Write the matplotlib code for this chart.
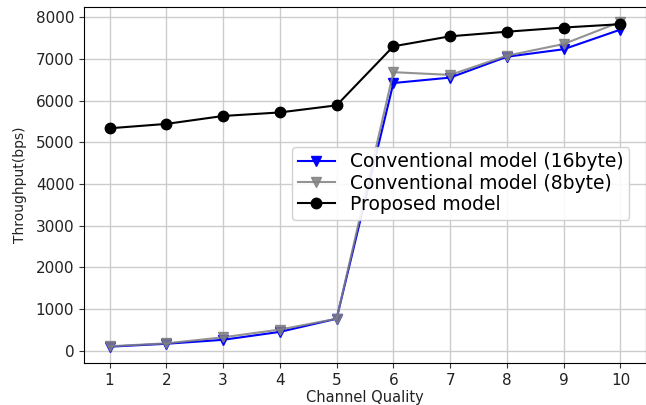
import matplotlib
matplotlib.use("Agg")
import matplotlib.pyplot as plt

# channel quality on x axis
channel_quality = [1, 2, 3, 4, 5, 6, 7, 8, 9, 10]

# throughput in bps
conv_16byte = [100, 170, 265, 455, 770, 6420, 6550, 7050, 7230, 7700]
conv_8byte = [110, 180, 325, 510, 770, 6680, 6615, 7075, 7355, 7885]
proposed = [5335, 5440, 5630, 5715, 5885, 7300, 7540, 7650, 7750, 7830]

fig = plt.figure(figsize=(6.46, 4.05), dpi=100)
ax = fig.add_axes([0.130, 0.104, 0.870, 0.879])

ax.plot(channel_quality, conv_16byte, color='blue', marker='v', markersize=7,
        linewidth=1.5, label='Conventional model (16byte)')
ax.plot(channel_quality, conv_8byte, color='gray', marker='v', markersize=7,
        linewidth=1.5, alpha=0.85, label='Conventional model (8byte)')
ax.plot(channel_quality, proposed, color='black', marker='o', markersize=7.5,
        linewidth=1.5, label='Proposed model')

ax.set_xlim(0.55, 10.45)
ax.set_ylim(-288, 8245)
ax.set_xticks(channel_quality)
ax.set_yticks(range(0, 8001, 1000))
ax.grid(True, color='#cccccc', linewidth=1)
ax.tick_params(labelsize=11, colors='#333333', labelcolor='#222222')

ax.set_xlabel('Channel Quality', fontsize=10.5, color='#222222', labelpad=2)
ax.set_ylabel('Throughput(bps)', fontsize=10, color='#222222', labelpad=6)

ax.legend(loc='upper left', bbox_to_anchor=(0.370, 0.607), borderaxespad=0,
          fontsize=13.5, handlelength=2, borderpad=0.3, labelspacing=0.12,
          framealpha=0.9)

fig.savefig('out.png', dpi=100)
